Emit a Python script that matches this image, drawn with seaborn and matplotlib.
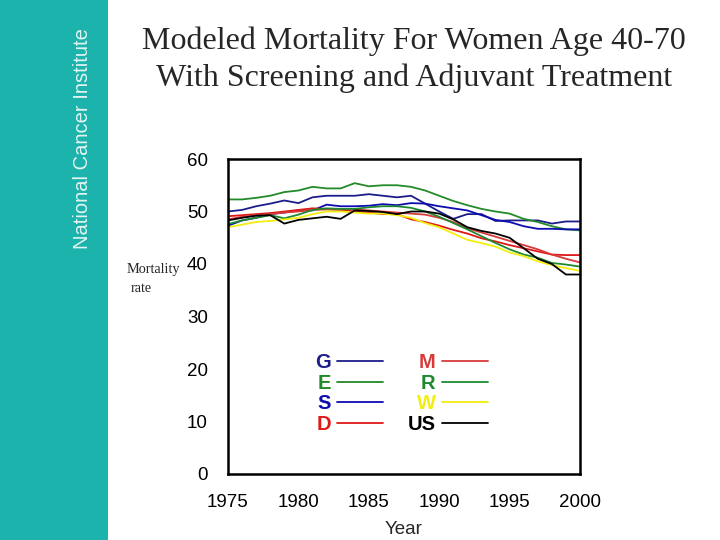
import matplotlib
matplotlib.use("Agg")
import matplotlib.pyplot as plt
from matplotlib.patches import Rectangle
import seaborn as sns
import pandas as pd

years = list(range(1975, 2001))

G = [50.0, 50.3, 51.0, 51.5, 52.1, 51.6, 52.7, 53.0, 53.0, 53.0, 53.3, 53.0, 52.7,
     53.0, 51.5, 50.0, 48.6, 49.5, 49.5, 48.2, 48.3, 48.3, 48.3, 47.7, 48.1, 48.1]
E = [52.3, 52.3, 52.6, 53.0, 53.7, 54.0, 54.7, 54.4, 54.4, 55.4, 54.8, 55.0, 55.0,
     54.7, 54.0, 53.0, 52.0, 51.2, 50.5, 50.0, 49.6, 48.6, 48.0, 47.2, 46.6, 46.4]
S = [47.3, 48.3, 48.8, 49.5, 49.8, 50.2, 50.2, 51.3, 51.0, 51.0, 51.1, 51.4, 51.2,
     51.6, 51.5, 51.0, 50.6, 50.2, 49.3, 48.4, 48.0, 47.2, 46.7, 46.7, 46.6, 46.6]
D = [49.1, 49.3, 49.5, 49.7, 50.0, 50.3, 50.6, 50.5, 50.3, 50.0, 49.8, 49.5, 49.5,
     48.5, 48.0, 47.3, 46.5, 45.8, 44.9, 44.3, 43.6, 43.0, 42.4, 41.8, 41.7, 41.7]
M = [48.5, 49.0, 49.3, 49.5, 49.8, 50.0, 50.3, 50.4, 50.3, 50.4, 50.2, 50.0, 49.8,
     49.6, 49.4, 48.8, 48.0, 46.8, 46.0, 45.2, 44.4, 43.6, 42.8, 41.8, 41.0, 40.3]
R = [47.6, 48.3, 48.8, 49.3, 48.7, 49.4, 50.3, 50.6, 50.5, 50.5, 50.8, 51.0, 51.0,
     50.7, 50.0, 49.0, 47.8, 46.6, 45.3, 44.0, 42.8, 41.8, 41.2, 40.2, 39.9, 39.5]
W = [47.0, 47.5, 48.0, 48.2, 48.5, 48.8, 49.5, 50.0, 50.0, 49.8, 49.6, 49.6, 49.3,
     48.8, 47.8, 47.0, 45.8, 44.6, 44.0, 43.3, 42.2, 41.5, 40.5, 39.8, 39.2, 38.7]
US = [48.3, 48.8, 49.2, 49.3, 47.7, 48.4, 48.7, 49.0, 48.6, 50.2, 50.1, 49.9, 49.5,
      50.0, 50.0, 49.6, 48.5, 47.0, 46.3, 45.8, 45.0, 43.0, 41.0, 40.0, 38.0, 38.0]

series_names = ["G", "E", "S", "D", "M", "R", "W", "US"]
series_values = [G, E, S, D, M, R, W, US]
colors = {"G": "#1c1c8a", "E": "#238a2a", "S": "#0c0cb0", "D": "#e01818",
          "M": "#d83a3a", "R": "#1e8a30", "W": "#f2ee10", "US": "#000000"}

x_ticks = [1975, 1980, 1985, 1990, 1995, 2000]
y_ticks = [0, 10, 20, 30, 40, 50, 60]

rows = []
for name, vals in zip(series_names, series_values):
    for yr, v in zip(years, vals):
        rows.append({"Year": yr, "Mortality": v, "Series": name})
df = pd.DataFrame(rows)

sns.set_style("white")
plt.rcParams["font.family"] = ["Liberation Sans", "DejaVu Sans"]

fig = plt.figure(figsize=(7.2, 5.4), dpi=100)
fig.patch.set_facecolor("white")

# sidebar
fig.patches.append(Rectangle((0, 0), 108 / 720, 1, transform=fig.transFigure,
                             facecolor="#1bb3ab", edgecolor="none", zorder=0))
fig.text(82 / 720, 1 - 139 / 540, "National Cancer Institute", rotation=90,
         ha="center", va="center", color="#e2f4f2", fontsize=14.5,
         family=["Liberation Sans", "DejaVu Sans"])

serif = ["Liberation Serif", "DejaVu Serif"]
fig.text(414 / 720, 1 - 41 / 540, "Modeled Mortality For Women Age 40-70",
         ha="center", va="center", fontsize=23, family=serif)
fig.text(414 / 720, 1 - 78 / 540, "With Screening and Adjuvant Treatment",
         ha="center", va="center", fontsize=23, family=serif)

ax = fig.add_axes([228 / 720, 1 - 474 / 540, (580 - 228) / 720, (474 - 159) / 540])
sns.lineplot(data=df, x="Year", y="Mortality", hue="Series", hue_order=series_names,
             palette=colors, linewidth=1.3, ax=ax, legend=False)

ax.set_xlim(1975, 2000)
ax.set_ylim(0, 60)
ax.set_xticks(x_ticks)
ax.set_yticks(y_ticks)
ax.tick_params(axis="both", direction="out", length=9.5, width=1.6, labelsize=13.5,
               color="black", labelcolor="black", pad=5)
for sp in ax.spines.values():
    sp.set_color("black")
    sp.set_linewidth(1.8)
ax.set_xlabel("Year", fontsize=13.5, labelpad=7)
ax.set_ylabel("")

fig.text(127 / 720, 1 - 270 / 540, "Mortality", ha="left", va="center", fontsize=10.3,
         family=serif)
fig.text(131 / 720, 1 - 289 / 540, "rate", ha="left", va="center", fontsize=10.3,
         family=serif)

# legend
handles = [plt.Line2D([], [], color=colors[n], linewidth=1.3) for n in series_names]
leg = ax.legend(handles, series_names, ncol=2, markerfirst=False, frameon=False,
                loc="center", bbox_to_anchor=(0.493, 0.2556), fontsize=14.5,
                handlelength=2.3, handletextpad=0.3, columnspacing=1.2,
                labelspacing=0.08)
for t, n in zip(leg.get_texts(), series_names):
    t.set_color(colors[n])
    t.set_fontweight("bold")

fig.savefig("out.png", dpi=100)
